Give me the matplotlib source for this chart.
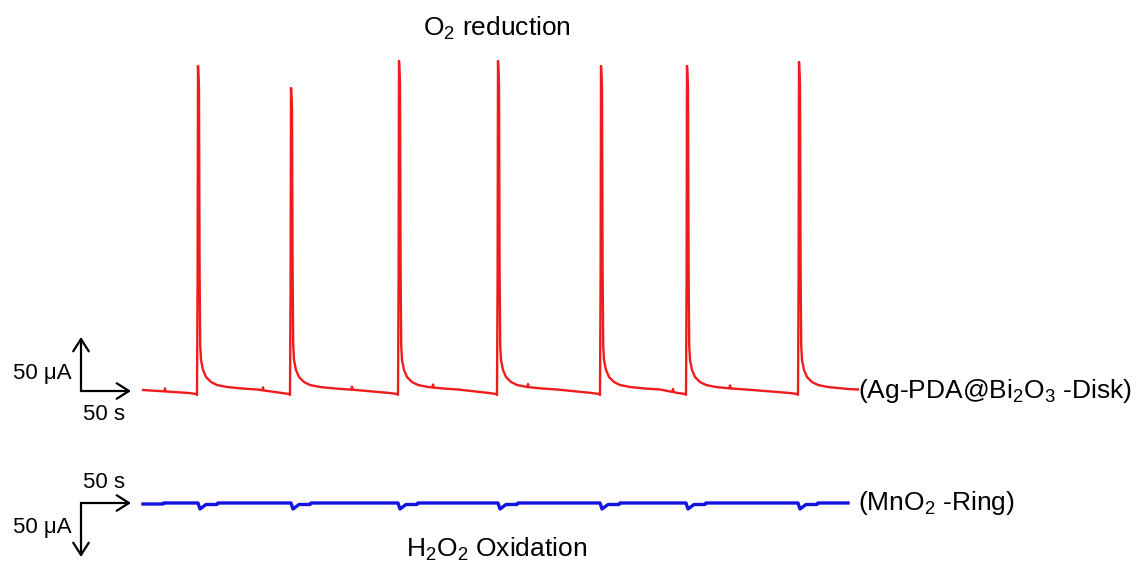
import numpy as np
import matplotlib
matplotlib.use("Agg")
import matplotlib.pyplot as plt
from matplotlib.patches import FancyArrowPatch

plt.rcParams['font.family'] = ['Liberation Sans', 'DejaVu Sans']
plt.rcParams['mathtext.fontset'] = 'custom'
plt.rcParams['mathtext.rm'] = 'Liberation Sans'
plt.rcParams['mathtext.it'] = 'Liberation Sans:italic'
plt.rcParams['mathtext.default'] = 'regular'

# ---------------- data (time in s, current in uA) ----------------
# Disk (red) trace: O2 reduction spikes
disk_spike_times = [54, 147, 255, 354, 457, 543, 655]
disk_spike_heights = [324, 302, 329, 329, 324, 324, 328]
# spike profile: (offset s, current uA); None -> peak
disk_profile_dt = [-8, -1, 0, 0.6, 1.0, 2.0, 2.6, 3.2, 4, 6, 9, 14, 20, 30, 45, 60]
disk_profile_val = [-3, -4, -5, None, None, None, 120, 45, 30, 20, 13, 8, 5, 3, 1.5, 0.5]
disk_peak_frac = [0.35, 1.0, 0.93]
disk_bump_times = [22, 120, 209, 290, 385, 530, 587]
disk_bump_height = 3
disk_start = (0, 0)
disk_end = (705, 1)

# Ring (blue) trace: H2O2 oxidation dips
ring_dip_times = [57, 150, 257, 357, 459, 545, 657]
ring_profile_dt = [-2, 0, 4, 6, 17, 18]
ring_profile_val = [0, -6, -3, -1.5, -1.5, 0]
ring_start = [(0, -1), (20, -1), (20.5, 0)]
ring_end = (705, 0)

scale_time = 50     # s
scale_current = 50  # uA

# ---------------- build traces from the arrays ----------------
def build_disk():
    pts = [disk_start]
    for t0, h in zip(disk_spike_times, disk_spike_heights):
        k = 0
        for dt, v in zip(disk_profile_dt, disk_profile_val):
            if v is None:
                v = h * disk_peak_frac[k]
                k += 1
            pts.append((t0 + dt, v))
    pts.append(disk_end)
    pts.sort()
    t = np.array([p[0] for p in pts], float)
    y = np.array([p[1] for p in pts], float)
    extra = []
    for tb in disk_bump_times:
        base = np.interp(tb, t, y)
        extra += [(tb - 0.6, np.interp(tb - 0.6, t, y)),
                  (tb, base + disk_bump_height),
                  (tb + 0.6, np.interp(tb + 0.6, t, y))]
    pts = sorted(list(zip(t, y)) + extra)
    return np.array([p[0] for p in pts]), np.array([p[1] for p in pts])


def build_ring():
    pts = list(ring_start)
    for t0 in ring_dip_times:
        for dt, v in zip(ring_profile_dt, ring_profile_val):
            pts.append((t0 + dt, v))
    pts.append(ring_end)
    pts.sort()
    return np.array([p[0] for p in pts]), np.array([p[1] for p in pts])


td, yd = build_disk()
tr, yr = build_ring()

# ---------------- figure ----------------
W, H, DPI = 1138, 567, 100
fig = plt.figure(figsize=(W / DPI, H / DPI), dpi=DPI)
ax = fig.add_axes([0, 0, 1, 1])
X0, Y0 = 143, 390           # pixel position of t=0, disk I=0
ax.set_xlim(-X0, W - X0)
ax.set_ylim(Y0 - H, Y0)
ax.axis('off')

RING_OFFSET = -113          # vertical display offset of the ring trace

ax.plot(td, yd, color='#ee1c1c', lw=1.7, solid_joinstyle='round')
ax.plot(tr, yr + RING_OFFSET, color='#1414e0', lw=2.4, solid_joinstyle='round')


def px(x, y):
    return x - X0, Y0 - y


ARROW = '->,head_length=0.55,head_width=0.35'


def arrow(p0, p1):
    ax.add_patch(FancyArrowPatch(p0, p1, arrowstyle=ARROW, mutation_scale=16, lw=1.6,
                                 color='black', shrinkA=0, shrinkB=0))

# scale bars (disk)
ox, oy = px(81, 391)
arrow((ox, oy), (ox + scale_time, oy))
arrow((ox, oy), (ox, oy + scale_current + 4))
# scale bars (ring)
ox2, oy2 = px(81, 503)
arrow((ox2, oy2), (ox2 + scale_time, oy2))
arrow((ox2, oy2), (ox2, oy2 - scale_current - 4))

fs = 16
ax.text(*px(72, 373), f'{scale_current} μA', ha='right', va='center', fontsize=fs)
ax.text(*px(104, 415), f'{scale_time} s', ha='center', va='center', fontsize=fs)
ax.text(*px(104, 483), f'{scale_time} s', ha='center', va='center', fontsize=fs)
ax.text(*px(72, 527), f'{scale_current} μA', ha='right', va='center', fontsize=fs)

fl = 19
ax.text(*px(497, 28), 'O$_2$ reduction', ha='center', va='center', fontsize=fl)
ax.text(*px(497, 549), 'H$_2$O$_2$ Oxidation', ha='center', va='center', fontsize=fl)
ax.text(*px(858, 391), '(Ag-PDA@Bi$_2$O$_3$ -Disk)', ha='left', va='center', fontsize=fl)
ax.text(*px(858, 503), '(MnO$_2$ -Ring)', ha='left', va='center', fontsize=fl)

fig.savefig('out.png', dpi=DPI, facecolor='white')
